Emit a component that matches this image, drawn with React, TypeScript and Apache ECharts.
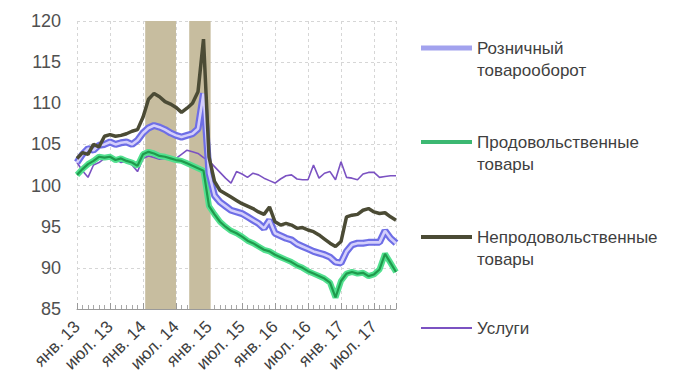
import React, { useEffect, useRef } from "react";
import * as echarts from "echarts";

const tickLabels = ["янв. 13", "июл. 13", "янв. 14", "июл. 14", "янв. 15", "июл. 15", "янв. 16", "июл. 16", "янв. 17", "июл. 17"];

const retail = [
  102.8, 103.8, 104.5, 104.3, 104.9, 105.0, 105.3, 105.0, 105.2, 105.3, 105.0, 105.5,
  106.4, 107.0, 107.3, 107.1, 106.8, 106.4, 106.1, 105.9, 106.1, 106.3, 106.9, 111.2,
  101.5, 98.8, 98.0, 97.5, 97.0, 96.8, 96.6, 96.2, 95.8, 95.4, 94.8, 95.8,
  94.2, 93.9, 93.6, 93.4, 92.9, 92.6, 92.3, 92.0, 91.8, 91.6, 91.3, 90.7,
  90.6, 92.0, 92.8, 93.0, 93.0, 93.1, 93.1, 93.1, 94.5, 93.6, 93.0,
];

const food = [
  101.3, 102.0, 102.6, 103.0, 103.5, 103.4, 103.5, 103.1, 103.3, 103.0, 102.8, 102.4,
  103.8, 104.1, 103.9, 103.6, 103.5, 103.3, 103.1, 103.0, 102.7, 102.4, 102.1, 101.8,
  97.5, 96.5, 95.6, 95.0, 94.5, 94.2, 93.8, 93.3, 93.0, 92.6, 92.2, 92.0,
  91.6, 91.3, 91.0, 90.7, 90.3, 90.0, 89.6, 89.3, 89.0, 88.7, 88.2, 86.4,
  88.4, 89.3, 89.5, 89.3, 89.4, 89.0, 89.2, 89.8, 91.7, 90.6, 89.5,
];

const nonFood = [
  103.3, 104.0, 103.8, 105.0, 104.7, 106.0, 106.2, 106.0, 106.1, 106.3, 106.6, 106.8,
  108.3, 110.5, 111.2, 110.8, 110.2, 109.9, 109.5, 108.9, 109.4, 110.0, 111.4, 117.8,
  103.5, 100.5, 99.4, 99.0, 98.6, 98.2, 97.8, 97.5, 97.2, 96.8, 96.5, 97.4,
  95.6, 95.2, 95.4, 95.2, 94.8, 94.9, 94.6, 94.4, 94.0, 93.5, 93.0, 92.6,
  93.2, 96.2, 96.4, 96.5, 97.0, 97.2, 96.8, 96.6, 96.7, 96.2, 95.8,
];

const services = [
  102.8, 101.8, 101.0, 102.5, 102.8, 103.3, 103.5, 103.2, 102.8, 103.0, 102.5, 101.7,
  103.3, 103.6, 103.4, 103.2, 103.3, 103.4, 103.3, 103.8, 104.3, 104.1, 103.9, 103.4,
  103.0, 102.3, 101.6, 100.9, 100.3, 101.7, 101.4, 101.0, 101.5, 101.3, 100.9, 100.6,
  100.3, 100.8, 101.2, 101.3, 100.8, 100.7, 100.7, 102.5, 100.9, 101.5, 101.7, 100.7,
  102.9, 101.0, 100.9, 100.7, 101.4, 101.6, 101.6, 101.0, 101.1, 101.2, 101.2,
];

// shaded periods, in month indices from Jan 2013
const shadedPeriods: [number, number][] = [
  [12.4, 18],
  [20.4, 24.3],
];

const NAME_RETAIL = "Розничный товарооборот";
const NAME_FOOD = "Продовольственные товары";
const NAME_NONFOOD = "Непродовольственные товары";
const NAME_SERVICES = "Услуги";

const FONT = "Liberation Sans, Arial, sans-serif";

const toPts = (arr: number[]) => arr.map((v, i) => [i, v]);

export default function App() {
  const ref = useRef<HTMLDivElement>(null);
  useEffect(() => {
    if (!ref.current) return;
    const chart = echarts.init(ref.current, undefined, { renderer: "svg" });
    const legendText = {
      fontFamily: FONT,
      fontSize: 17,
      color: "#3f3f3f",
      lineHeight: 22,
    };
    const twoLine = (name: string) => "\n" + name.replace(" ", "\n");
    const mkLegend = (name: string, top: number, color: string, h: number, multi: boolean) => ({
      left: 421,
      top,
      padding: 0,
      itemWidth: 51,
      itemHeight: h,
      formatter: multi ? twoLine : (n: string) => n,
      textStyle: legendText,
      data: [{ name, icon: "rect", itemStyle: { color, borderWidth: 0 } }],
      selectedMode: false,
    });
    chart.setOption({
      animation: false,
      backgroundColor: "#ffffff",
      grid: { left: 77, top: 21, width: 319, height: 288, containLabel: false },
      legend: [
        mkLegend(NAME_RETAIL, 15, "#a2a2ee", 5, true),
        mkLegend(NAME_FOOD, 109, "#3cb872", 4, true),
        mkLegend(NAME_NONFOOD, 204, "#4b4b35", 4, true),
        mkLegend(NAME_SERVICES, 317, "#7b52c2", 2, false),
      ],
      xAxis: {
        type: "value",
        min: 0,
        max: 58,
        interval: 6,
        axisLine: { show: true, lineStyle: { color: "#9a9a9a", width: 1 } },
        axisTick: { show: true, inside: true, length: 6, lineStyle: { color: "#9a9a9a" } },
        minorTick: { show: true, splitNumber: 6, length: 4, lineStyle: { color: "#a8a8a8" } },
        splitLine: { show: true, lineStyle: { color: "#d6d6d6", type: [3, 3] } },
        axisLabel: {
          rotate: 45,
          margin: 15,
          fontFamily: FONT,
          fontSize: 17,
          color: "#404040",
          formatter: (v: number) => (v % 6 === 0 && tickLabels[v / 6] ? tickLabels[v / 6] : ""),
        },
      },
      yAxis: {
        type: "value",
        min: 85,
        max: 120,
        interval: 5,
        axisLine: { show: false },
        axisTick: { show: false },
        splitLine: { show: true, lineStyle: { color: "#d6d6d6", type: [3, 3] } },
        axisLabel: { margin: 16, fontFamily: FONT, fontSize: 18, color: "#505050" },
      },
      series: [
        {
          name: NAME_SERVICES,
          type: "line",
          data: toPts(services),
          symbol: "none",
          lineStyle: { color: "#7b52c2", width: 1.6 },
          itemStyle: { color: "#7b52c2" },
          z: 3,
          markArea: {
            silent: true,
            itemStyle: { color: "#c7bd9f", opacity: 1 },
            data: shadedPeriods.map(([a, b]) => [{ xAxis: a }, { xAxis: b }]),
          },
        },
        {
          name: NAME_FOOD,
          type: "line",
          data: toPts(food),
          symbol: "none",
          lineStyle: { color: "#52e08f", width: 6 },
          itemStyle: { color: "#3cb872" },
          z: 4,
        },
        {
          name: NAME_FOOD,
          type: "line",
          data: toPts(food),
          symbol: "none",
          lineStyle: { color: "#1f9a4c", width: 2.2 },
          itemStyle: { color: "#3cb872" },
          z: 5,
        },
        {
          name: NAME_RETAIL,
          type: "line",
          data: toPts(retail),
          symbol: "none",
          lineStyle: { color: "#6e6ee6", width: 7 },
          itemStyle: { color: "#a2a2ee" },
          z: 6,
        },
        {
          name: NAME_RETAIL,
          type: "line",
          data: toPts(retail),
          symbol: "none",
          lineStyle: { color: "#d4cffb", width: 2.6 },
          itemStyle: { color: "#a2a2ee" },
          z: 7,
        },
        {
          name: NAME_NONFOOD,
          type: "line",
          data: toPts(nonFood),
          symbol: "none",
          lineStyle: { color: "#4b4b35", width: 3.5 },
          itemStyle: { color: "#4b4b35" },
          z: 8,
        },
      ],
    });
    return () => chart.dispose();
  }, []);
  return (
    <div
      ref={ref}
      style={{ position: "fixed", left: 0, top: 0, width: 677, height: 377, background: "#fff" }}
    />
  );
}
